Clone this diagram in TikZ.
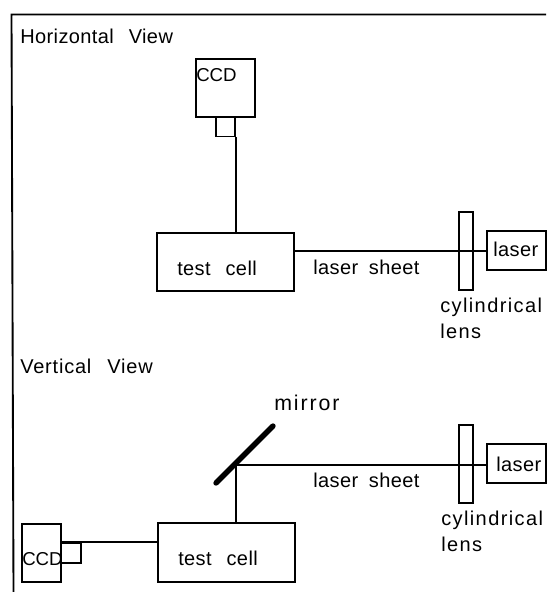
\documentclass[tikz,border=0pt]{standalone}
\usepackage{fontspec}
\setmainfont[LetterSpace=2,WordSpace=1.25]{Liberation Sans}
\usetikzlibrary{positioning}

\begin{document}
\begin{tikzpicture}[
  x=0.75pt, y=-0.75pt,
  box/.style={draw, line width=1.4pt, inner sep=0pt, fill=white},
  beam/.style={line width=1.35pt},
  lbl/.style={font=\fontsize{15}{19}\selectfont, inner sep=0pt, anchor=base west},
  wide/.style={lbl, font=\fontsize{15}{19}\selectfont\addfontfeature{LetterSpace=7}},
  tag/.style={lbl, font=\fontsize{14}{19}\selectfont\addfontfeature{LetterSpace=0}}
]
  \useasboundingbox (0, 0) rectangle (546, 592);

  % Outer frame
  \coordinate (framebl) at (13.5, 592);
  \coordinate (frametl) at (11.5, 14.5);
  \coordinate (frametr) at (546, 14.5);
  \draw[line width=1.4pt] (framebl) -- (frametl) -- (frametr);

  % Horizontal view
  \node[lbl] (htitle) at (20, 44) {Horizontal\ \ View};
  \node[box, minimum width=14.25pt, minimum height=14.25pt] (hmount) at (225.5, 127) {};
  \node[box, minimum width=44pt, minimum height=43.5pt] (hccd) at (225.5, 88) {};
  \node[tag] (hccdtxt) at (196, 82) {CCD};
  \node[box, minimum width=102.5pt, minimum height=43.75pt] (hcell) at (225.5, 262.25) {};
  \node[lbl] (hcelltxt) at (177, 275) {test\ \ cell};
  \node[box, minimum width=44pt, minimum height=29.25pt] (hlaser) at (516.25, 250.75) {};
  \node[lbl] (hlasertxt) at (493, 256) {laser};
  \draw[beam] (hmount.south east) -- (hmount.south east |- hcell.north);
  \draw[beam] (hlaser.west) -- (hlaser.west -| hcell.east);
  \node[box, fill=none, minimum width=10pt, minimum height=58.5pt] (hlens) at (466, 251) {};
  \node[lbl] (hsheet) at (313, 274) {laser\ \,sheet};
  \node[wide, anchor=north west, align=left] (hlenstxt) at (440, 298) {cylindrical\\lens};

  % Vertical view
  \node[lbl, font=\fontsize{15}{19}\selectfont\addfontfeature{LetterSpace=4}] (vtitle) at (20, 373) {Vertical\ \ View};
  \node[lbl, font=\fontsize{16}{19}\selectfont\addfontfeature{LetterSpace=9}] (vmirrortxt) at (274, 410) {mirror};
  \coordinate (mirrorlow) at (216, 483);
  \coordinate (mirrorhigh) at (273, 426);
  \coordinate (mirrorhit) at (236, 465);
  \draw[line width=4pt, line cap=round] (mirrorlow) -- (mirrorhigh);
  \node[box, minimum width=102.5pt, minimum height=44pt] (vcell) at (226.5, 552.5) {};
  \node[lbl] (vcelltxt) at (178, 565) {test\ \ cell};
  \node[box, minimum width=14.5pt, minimum height=14.75pt] (vmount) at (71, 553) {};
  \node[box, minimum width=29.75pt, minimum height=43.75pt] (vccd) at (41.5, 553) {};
  \node[tag] (vccdtxt) at (22, 565.5) {CCD};
  \node[box, minimum width=44pt, minimum height=29.25pt] (vlaser) at (516.5, 463.5) {};
  \node[lbl] (vlasertxt) at (496, 471) {laser};
  \draw[beam] (mirrorhit) -- (mirrorhit |- vcell.north);
  \draw[beam] (mirrorhit) -- (mirrorhit -| vlaser.west);
  \draw[beam] (vmount.north west) -- (vmount.north west -| vcell.west);
  \node[box, fill=none, minimum width=10pt, minimum height=58.5pt] (vlens) at (466, 464) {};
  \node[lbl] (vsheet) at (313, 487) {laser\ \,sheet};
  \node[wide, anchor=north west, align=left] (vlenstxt) at (441, 511) {cylindrical\\lens};
\end{tikzpicture}
\end{document}
